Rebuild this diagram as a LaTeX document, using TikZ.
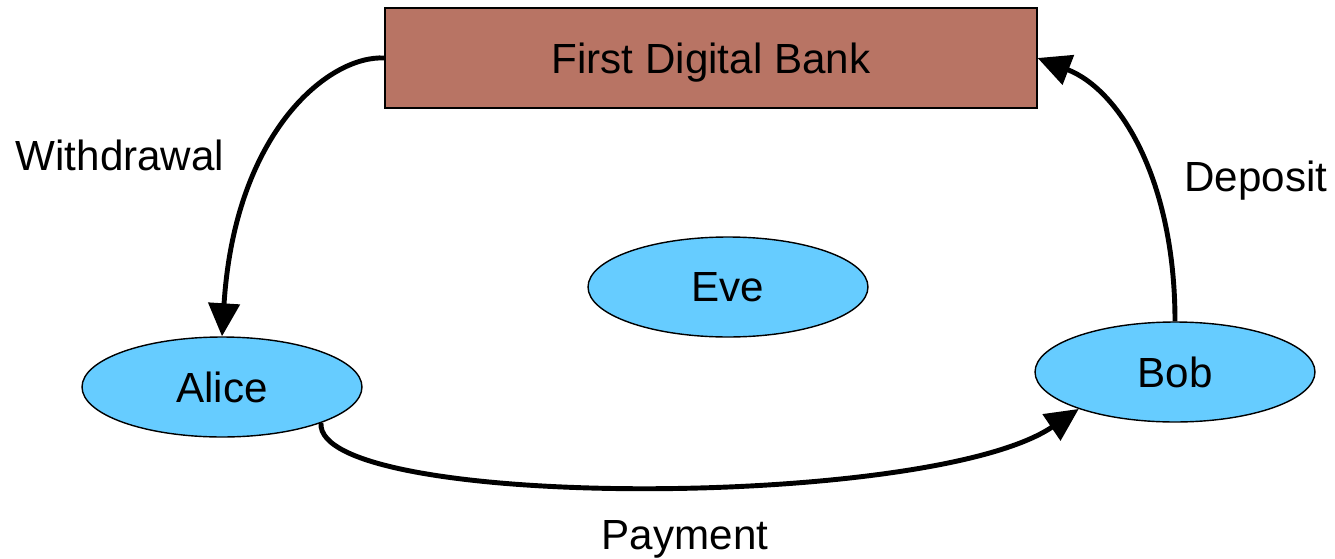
\documentclass[tikz,border=0pt]{standalone}
\usepackage{fontspec}
\setmainfont{Liberation Sans}
\usetikzlibrary{shapes.geometric,arrows.meta}
\definecolor{bankfill}{HTML}{B87464}
\definecolor{personfill}{HTML}{66CCFF}
\tikzset{
  person/.style={ellipse, draw=black, line width=0.8pt, fill=personfill, minimum width=5.6cm, minimum height=2cm, inner sep=0pt, font=\fontsize{24}{29}\selectfont},
  bankbox/.style={rectangle, draw=black, line width=0.8pt, fill=bankfill, minimum width=13.04cm, minimum height=2cm, inner sep=0pt, text depth=0pt, font=\fontsize{24}{29}\selectfont},
  lbl/.style={inner sep=0pt, text depth=0pt, font=\fontsize{24}{29}\selectfont},
  flow/.style={line width=2.8pt, -{Triangle[length=0.66cm, width=0.62cm]}}
}
\begin{document}
\begin{tikzpicture}[x=0.02cm, y=-0.02cm]
\useasboundingbox (0,0) rectangle (1335,558);
\node[bankbox] (bank) at (711,58) {First Digital Bank};
\node[person] (eve) at (728,287) {Eve};
\node[person] (alice) at (222,387) {Alice};
\node[person] (bob) at (1175,372) {Bob};
\node[lbl] (lw) at (120,155) {Withdrawal};
\node[lbl] (ld) at (1256,176) {Deposit};
\node[lbl] (lp) at (685,535) {Payment};
\draw[flow] (bank.west) .. controls (330,55) and (235,130) .. (alice.north);
\draw[flow] (bob.north) .. controls (1175,180) and (1120,90) .. (bank.east);
\draw[flow] (alice.-20) .. controls (315,510) and (930,510) .. (bob.201);
\end{tikzpicture}
\end{document}
